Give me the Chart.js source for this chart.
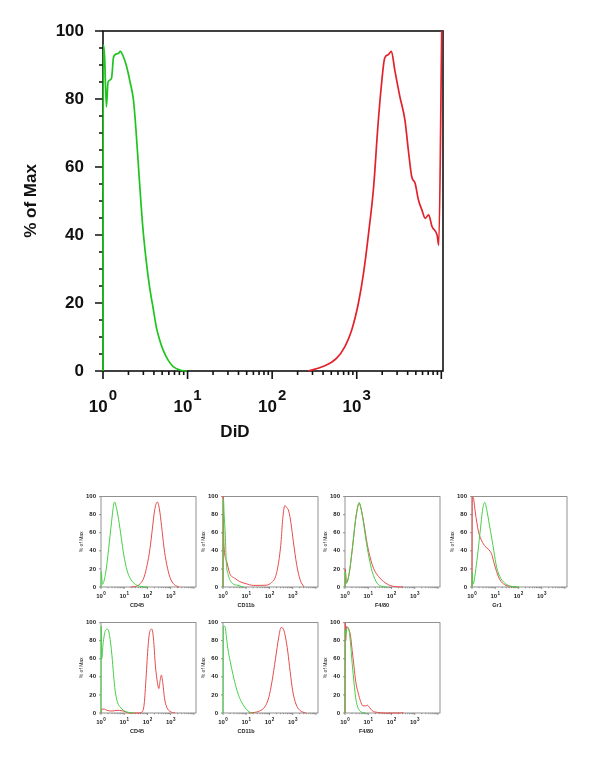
<!DOCTYPE html>
<html>
<head>
<meta charset="utf-8">
<script src="https://cdn.jsdelivr.net/npm/chart.js@4.4.1/dist/chart.umd.min.js"></script>
<style>
  body { margin: 0; background: #fff; width: 600px; height: 779px; position: relative; overflow: hidden; }
  canvas { position: absolute; }
</style>
</head>
<body>
<canvas id="did" width="600" height="460" style="left:0;top:0"></canvas>
<canvas id="p0" width="126" height="121" style="left:75px;top:488px"></canvas>
<canvas id="p1" width="126" height="121" style="left:197px;top:488px"></canvas>
<canvas id="p2" width="126" height="121" style="left:319px;top:488px"></canvas>
<canvas id="p3" width="126" height="121" style="left:446px;top:488px"></canvas>
<canvas id="p4" width="126" height="121" style="left:75px;top:614px"></canvas>
<canvas id="p5" width="126" height="121" style="left:197px;top:614px"></canvas>
<canvas id="p6" width="126" height="121" style="left:319px;top:614px"></canvas>
<script>
// x values are log10 of the fluorescence, y values are % of max
const didGreenLog = [0, 0.004, 0.02, 0.04, 0.06, 0.1, 0.126, 0.18, 0.205, 0.24, 0.28, 0.32, 0.36, 0.39, 0.43, 0.47, 0.51, 0.55, 0.59, 0.63, 0.67, 0.71, 0.77, 0.83, 0.91, 0.99];
const didGreenPct = [0, 96, 92, 77.7, 85, 86, 92.5, 93.4, 94, 92.5, 89.5, 85, 79.7, 70.9, 56.2, 42.5, 32.6, 24.8, 18.9, 13, 9.1, 6.2, 3.2, 1.3, 0.3, 0];
const didRedLog = [2.43, 2.6, 2.76, 2.86, 2.94, 3.02, 3.08, 3.14, 3.2, 3.25, 3.29, 3.33, 3.37, 3.41, 3.45, 3.51, 3.57, 3.61, 3.65, 3.69, 3.73, 3.77, 3.81, 3.85, 3.89, 3.95, 3.97, 4.005];
const didRedPct = [0, 1.3, 3.7, 7.2, 12, 20, 28.7, 40.5, 54.2, 71.9, 83.6, 92, 93, 94, 88.5, 80.7, 73.8, 65, 57.2, 55.2, 50.3, 47.4, 44.9, 45.9, 42.5, 40, 37, 100];

const markers = ['CD45', 'CD11b', 'F4/80', 'Gr1', 'CD45', 'CD11b', 'F4/80'];
const decadeTicks = [0, 1, 2, 3];

// top row
const cd45aGreenLog = [0, 0.01, 0.06, 0.19, 0.33, 0.45, 0.55, 0.59, 0.66, 0.76, 0.87, 0.98, 1.13, 1.27, 1.49, 1.7, 2.0];
const cd45aGreenPct = [0, 17, 3, 14, 42.5, 71, 92, 94, 88, 74.5, 55, 35.5, 17.7, 8.9, 2.8, 0.7, 0];
const cd45aRedLog = [1.3, 1.49, 1.7, 1.85, 1.99, 2.11, 2.21, 2.31, 2.42, 2.51, 2.61, 2.71, 2.83, 2.97, 3.15, 3.36];
const cd45aRedPct = [0, 0.7, 4, 10.6, 24.8, 42.5, 64, 85, 94, 87, 67, 44, 25, 10.6, 2.8, 0];

const cd11aGreenLog = [0, 0.02, 0.05, 0.1, 0.14, 0.22, 0.32, 0.43, 0.65, 0.87];
const cd11aGreenPct = [0, 97, 80, 57, 28, 14, 7, 3.5, 1.8, 0];
const cd11aRedLog = [0, 0.01, 0.04, 0.14, 0.29, 0.51, 0.72, 1.01, 1.3, 1.59, 1.88, 2.09, 2.24, 2.38, 2.5, 2.57, 2.66, 2.74, 2.83, 2.93, 3.03, 3.17, 3.32, 3.49];
const cd11aRedPct = [0, 100, 48, 30, 15, 9.6, 6, 3.5, 1.8, 1.8, 2, 5, 10, 25, 50, 75, 90, 88, 84, 70, 50, 25, 8, 0];

const f480aGreenLog = [0, 0.01, 0.06, 0.18, 0.32, 0.46, 0.56, 0.61, 0.68, 0.79, 0.89, 1.03, 1.17, 1.38, 1.59, 1.8];
const f480aGreenPct = [0, 17, 4, 15, 43.6, 75.7, 90, 93.6, 88, 72, 54, 33, 17, 4.3, 0.7, 0];
const f480aRedLog = [0, 0.01, 0.06, 0.18, 0.32, 0.46, 0.56, 0.61, 0.68, 0.79, 0.96, 1.1, 1.24, 1.45, 1.66, 1.87, 2.08, 2.5];
const f480aRedPct = [0, 20, 5, 15, 43, 75, 90, 92.5, 88, 74, 47, 31, 20, 11.4, 6, 2.5, 0.7, 0];

const gr1GreenLog = [0, 0.01, 0.04, 0.21, 0.35, 0.46, 0.55, 0.63, 0.75, 0.85, 0.94, 1.06, 1.2, 1.41, 1.69, 2.04];
const gr1GreenPct = [0, 16, 3, 29, 61, 86, 93.6, 86, 68.6, 54, 40, 22, 11.4, 4.3, 0.7, 0];
const gr1RedLog = [0, 0.01, 0.07, 0.14, 0.28, 0.42, 0.56, 0.7, 0.85, 0.94, 1.06, 1.2, 1.41, 1.62, 1.9];
const gr1RedPct = [0, 100, 97, 83, 61, 51, 45, 42, 36, 27.5, 17, 8, 2.5, 0.7, 0];

// bottom row
const cd45bGreenLog = [0, 0.01, 0.03, 0.09, 0.19, 0.29, 0.37, 0.47, 0.54, 0.61, 0.71, 0.83, 0.97, 1.19, 1.4];
const cd45bGreenPct = [0, 96, 60, 76.6, 91, 92.8, 85.6, 64, 42.4, 24.5, 11.9, 6.5, 2.9, 0.7, 0];
const cd45bRedLog = [0, 0.03, 0.14, 0.26, 0.47, 0.69, 0.9, 1.04, 1.19, 1.6, 1.76, 1.86, 1.94, 2.03, 2.11, 2.19, 2.26, 2.34, 2.43, 2.49, 2.54, 2.6, 2.66, 2.73, 2.83, 2.97, 3.19];
const cd45bRedPct = [0, 4, 4.3, 2.9, 2.2, 2.9, 2.5, 1.4, 0, 0, 1, 10, 39, 75, 91, 92.8, 82, 53, 33.5, 27, 35, 42, 33.5, 17, 6.5, 1.8, 0];

const cd11bGreenLog = [0, 0.02, 0.09, 0.14, 0.21, 0.31, 0.43, 0.57, 0.71, 0.86, 1.0, 1.14, 1.29];
const cd11bGreenPct = [0, 96, 95.7, 85.6, 71, 57, 42.4, 28, 17, 9.4, 4.3, 1.1, 0];
const cd11bRedLog = [1.1, 1.29, 1.57, 1.79, 1.97, 2.11, 2.26, 2.4, 2.5, 2.6, 2.69, 2.79, 2.89, 3.0, 3.14, 3.31, 3.57];
const cd11bRedPct = [0, 0.4, 2.2, 6.5, 17, 35, 60, 84, 94.6, 92.8, 84, 67.6, 46, 24.5, 10, 2.9, 0];

const f480bGreenLog = [0, 0.01, 0.03, 0.1, 0.17, 0.24, 0.31, 0.39, 0.46, 0.53, 0.6, 0.74, 0.89];
const f480bGreenPct = [0, 92, 87, 94.6, 92, 76, 54.5, 33, 16.8, 7.9, 3.6, 0.7, 0];
const f480bRedLog = [0, 0.01, 0.03, 0.07, 0.17, 0.24, 0.31, 0.39, 0.46, 0.57, 0.67, 0.77, 0.89, 0.96, 1.06, 1.17, 1.39, 1.74, 2.4, 2.46, 2.52];
const f480bRedPct = [0, 100, 80, 95.7, 92, 85, 69, 51, 35, 22, 13, 7.9, 7.9, 8.6, 6, 2.5, 0.7, 0, 0, 0.7, 0];

const FONT = '"Liberation Sans", Arial, sans-serif';

// box, tick marks and 10^n labels, drawn from the chart's own scales
const histFrame = {
  id: 'histFrame',
  beforeDatasetsDraw(chart, args, o) {
    const { ctx, chartArea: a, scales: { x, y } } = chart;
    ctx.save();
    ctx.strokeStyle = o.color;
    ctx.lineWidth = o.lineWidth;
    ctx.strokeRect(a.left, a.top, a.right - a.left, a.bottom - a.top);
    ctx.beginPath();
    for (let e = 0; e <= 4; e++) {
      for (let m = 1; m <= 9; m++) {
        const v = m * Math.pow(10, e);
        if (v > x.max) break;
        const px = x.getPixelForValue(v);
        ctx.moveTo(px, a.bottom);
        ctx.lineTo(px, a.bottom + (m === 1 ? o.major : o.minor));
      }
    }
    for (let v = 0; v <= 100; v += o.yStep) {
      const py = y.getPixelForValue(v);
      ctx.moveTo(a.left, py);
      ctx.lineTo(a.left - (v % 20 === 0 ? o.major : o.minor), py);
    }
    ctx.stroke();

    ctx.fillStyle = o.textColor;
    ctx.textAlign = 'left';
    ctx.textBaseline = 'alphabetic';
    decadeTicks.forEach(n => {
      ctx.font = o.baseFont;
      const w1 = ctx.measureText('10').width;
      ctx.font = o.supFont;
      const w2 = ctx.measureText(String(n)).width;
      const left = x.getPixelForValue(Math.pow(10, n)) - (w1 + w2 + o.gap) / 2;
      ctx.font = o.baseFont;
      ctx.fillText('10', left, a.bottom + o.baseDy);
      ctx.font = o.supFont;
      ctx.fillText(String(n), left + w1 + o.gap, a.bottom + o.supDy);
    });
    ctx.font = o.titleFont;
    ctx.textAlign = 'center';
    ctx.fillText(o.title, a.left + o.titleDx, a.bottom + o.titleDy);
    ctx.restore();
  }
};

function toPoints(logs, pcts) {
  return logs.map((d, i) => ({ x: Math.pow(10, d), y: pcts[i] }));
}

function histChart(id, green, red, cfg) {
  return new Chart(document.getElementById(id), {
    type: 'line',
    data: {
      datasets: [
        { data: green, borderColor: cfg.green },
        { data: red, borderColor: cfg.red }
      ].map(ds => Object.assign(ds, {
        borderWidth: cfg.lw, pointRadius: 0, fill: false,
        cubicInterpolationMode: 'monotone', clip: 3
      }))
    },
    options: {
      responsive: false,
      animation: false,
      devicePixelRatio: 1,
      layout: { padding: { left: 0, top: cfg.padTop, right: cfg.padRight, bottom: 0 } },
      plugins: {
        legend: { display: false },
        tooltip: { enabled: false },
        histFrame: cfg.frame
      },
      scales: {
        x: {
          type: 'logarithmic', min: 1, max: cfg.xMax,
          ticks: { display: false },
          grid: { display: false, drawTicks: false },
          border: { display: false },
          afterFit: s => { s.height = cfg.xH; }
        },
        y: {
          min: 0, max: 100,
          ticks: { stepSize: 20, padding: cfg.yPad, color: cfg.frame.textColor, font: cfg.yFont },
          grid: { display: false, drawTicks: false },
          border: { display: false },
          title: {
            display: true, text: '% of Max', color: cfg.frame.textColor,
            font: cfg.titleFont, padding: { top: cfg.titlePad, bottom: 0 }
          },
          afterFit: s => { s.width = cfg.yW; }
        }
      }
    },
    plugins: [histFrame]
  });
}

histChart('did', toPoints(didGreenLog, didGreenPct), toPoints(didRedLog, didRedPct), {
  green: '#1fc41f', red: '#e2222b', lw: 1.7,
  padTop: 31, padRight: 157, xH: 89, yW: 103, xMax: Math.pow(10, 4.02),
  yPad: 19, yFont: { family: FONT, size: 17, weight: 'bold' },
  titleFont: { family: FONT, size: 17, weight: 'bold' }, titlePad: 21.5,
  frame: {
    color: '#111', lineWidth: 1.6, major: 8, minor: 4, yStep: 5, textColor: '#111',
    baseFont: 'bold 17px ' + FONT, supFont: 'bold 15px ' + FONT, gap: 1,
    baseDy: 41, supDy: 29,
    titleFont: 'bold 17px ' + FONT, title: 'DiD', titleDx: 132, titleDy: 66
  }
});

const panels = [
  [cd45aGreenLog, cd45aGreenPct, cd45aRedLog, cd45aRedPct, 36],
  [cd11aGreenLog, cd11aGreenPct, cd11aRedLog, cd11aRedPct, 23],
  [f480aGreenLog, f480aGreenPct, f480aRedLog, f480aRedPct, 37],
  [gr1GreenLog, gr1GreenPct, gr1RedLog, gr1RedPct, 25],
  [cd45bGreenLog, cd45bGreenPct, cd45bRedLog, cd45bRedPct, 36],
  [cd11bGreenLog, cd11bGreenPct, cd11bRedLog, cd11bRedPct, 23],
  [f480bGreenLog, f480bGreenPct, f480bRedLog, f480bRedPct, 21]
];

panels.forEach((p, i) => {
  histChart('p' + i, toPoints(p[0], p[1]), toPoints(p[2], p[3]), {
    green: '#46cf46', red: '#e64b4b', lw: 1,
    padTop: 6, padRight: 5, xH: 22, yW: 26, xMax: Math.pow(10, 4.09),
    yPad: 5, yFont: { family: FONT, size: 6, weight: 'bold' },
    titleFont: { family: FONT, size: 5 }, titlePad: 3.7,
    frame: {
      color: '#777', lineWidth: 0.8, major: 2, minor: 1.2, yStep: 20, textColor: '#222',
      baseFont: 'bold 6px ' + FONT, supFont: 'bold 4.5px ' + FONT, gap: 0.3,
      baseDy: 10.5, supDy: 7.5,
      titleFont: 'bold 5.5px ' + FONT, title: markers[i], titleDx: p[4], titleDy: 20
    }
  });
});
</script>
</body>
</html>
